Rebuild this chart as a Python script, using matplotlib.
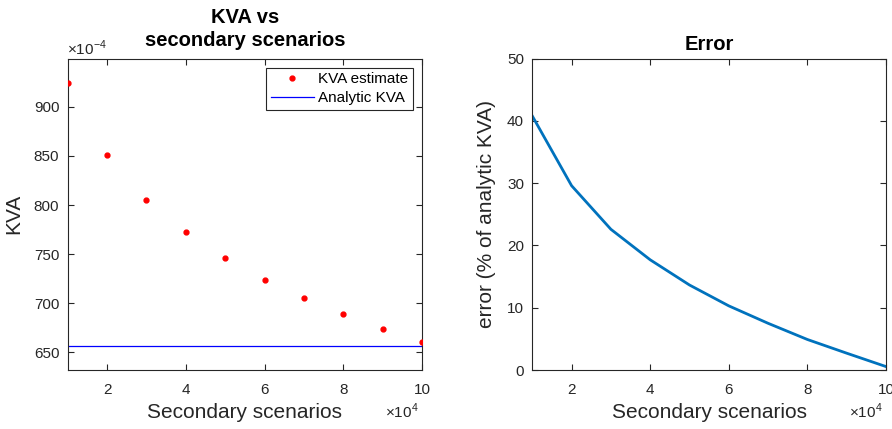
import matplotlib
matplotlib.use("Agg")
import matplotlib.pyplot as plt
import numpy as np

plt.rcParams['font.family'] = ['Liberation Sans', 'DejaVu Sans']

scenarios = [10000, 20000, 30000, 40000, 50000, 60000, 70000, 80000, 90000, 100000]
kva_estimate = [0.09244, 0.08505, 0.08053, 0.07721, 0.07456, 0.07238, 0.07049, 0.06886, 0.06737, 0.06605]
kva_analytic = 0.06567
error_pct = [40.8, 29.6, 22.6, 17.7, 13.65, 10.3, 7.5, 4.9, 2.7, 0.55]

xticks = [2, 4, 6, 8, 10]
yticks_left = [650, 700, 750, 800, 850, 900]
yticks_right = [0, 10, 20, 30, 40, 50]

dark = '#262626'
W, H = 892, 429
fig = plt.figure(figsize=(W / 100, H / 100), dpi=100)

def box(x0, x1, y0, y1):
    return [x0 / W, 1 - y1 / H, (x1 - x0) / W, (y1 - y0) / H]

ax1 = fig.add_axes(box(67.7, 422, 58.7, 370))
ax2 = fig.add_axes(box(532.3, 886, 58.7, 370))

xs = np.array(scenarios) / 1e4

ax1.plot(xs, np.array(kva_estimate) * 1e4, '.', color='red', markersize=7, label='KVA estimate', zorder=3)
ax1.axhline(kva_analytic * 1e4, color='blue', lw=0.9, label='Analytic KVA')
ax1.set_xlim(1, 10)
ax1.set_ylim(632, 949)
ax1.set_yticks(yticks_left)
ax1.set_title('KVA vs\nsecondary scenarios', fontsize=14.5, fontweight='bold', pad=9, linespacing=1.25)
ax1.set_ylabel('KVA', fontsize=15, color=dark, labelpad=8)
ax1.set_xlabel('Secondary scenarios', fontsize=15, color=dark, labelpad=5)
leg = ax1.legend(loc='upper right', fontsize=11, frameon=True, fancybox=False,
                 edgecolor=dark, framealpha=1, borderpad=0.3, handlelength=2.8,
                 handletextpad=0.3, borderaxespad=0.6, labelspacing=0.3)
leg.get_frame().set_linewidth(0.8)
fig.text(67 / W, 1 - 48 / H, '×10$^{\\mathregular{-4}}$', fontsize=11, color=dark, ha='left', va='center')

ax2.plot(xs, error_pct, color='#0072BD', lw=2)
ax2.set_xlim(1, 10)
ax2.set_ylim(0, 50)
ax2.set_yticks(yticks_right)
ax2.set_title('Error', fontsize=14.5, fontweight='bold', pad=6)
ax2.set_ylabel('error (% of analytic KVA)', fontsize=15, color=dark, labelpad=8)
ax2.set_xlabel('Secondary scenarios', fontsize=15, color=dark, labelpad=5)

for ax, xr in ((ax1, 422), (ax2, 886)):
    ax.set_xticks(xticks)
    ax.tick_params(direction='in', top=True, right=True, labelsize=11, colors=dark,
                   length=4, width=0.8, pad=6)
    ax.tick_params(axis='x', pad=9)
    for s in ax.spines.values():
        s.set_color(dark)
        s.set_linewidth(0.8)
    fig.text((xr - 37) / W, 1 - 411 / H, '×10$^{\\mathregular{4}}$', fontsize=11, color=dark,
             ha='left', va='center')

fig.savefig('out.png', dpi=100)
